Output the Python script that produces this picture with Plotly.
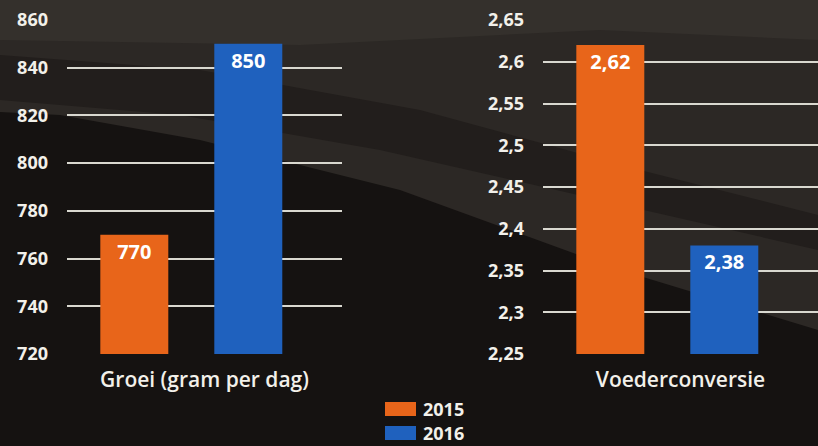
import plotly.graph_objects as go

years = ["2015", "2016"]
colors = ["#E8651A", "#1F61BE"]
groei_label = "Groei (gram per dag)"
voer_label = "Voederconversie"
groei = [770, 850]
voer = [2.62, 2.38]
groei_ticks = [720, 740, 760, 780, 800, 820, 840, 860]
voer_ticks = [2.25, 2.3, 2.35, 2.4, 2.45, 2.5, 2.55, 2.6, 2.65]

W, H = 818, 446
fig = go.Figure()

font_family = "Open Sans, Lato, sans-serif"
txt = "#f2f0ea"

for i, yr in enumerate(years):
    fig.add_trace(go.Bar(
        x=[groei_label], y=[groei[i]], name=yr, marker_color=colors[i],
        marker_line_width=0,
        texttemplate="%{y:.0f}", textposition="inside",
        insidetextanchor="end", textangle=0,
        textfont=dict(color="white", size=20, family=font_family, weight="bold"),
        xaxis="x", yaxis="y", legendgroup=yr, showlegend=False,
    ))
    fig.add_trace(go.Bar(
        x=[voer_label], y=[voer[i]], name=yr, marker_color=colors[i],
        marker_line_width=0,
        texttemplate="%{y:.2f}", textposition="inside",
        insidetextanchor="end", textangle=0,
        textfont=dict(color="white", size=20, family=font_family, weight="bold"),
        xaxis="x2", yaxis="y2", legendgroup=yr, showlegend=False,
    ))

ydom = [1 - 354 / H, 1 - 20 / H]
grid = dict(showgrid=True, gridcolor="#d9d8d0", gridwidth=1.6, zeroline=False,
            showline=False, ticks="", ticklabelstandoff=18, automargin=False,
            tickfont=dict(color=txt, size=18, family=font_family, weight="bold"))
xcommon = dict(showgrid=False, zeroline=False, showline=False, showticklabels=False,
               ticks="", range=[-0.452, 0.548], automargin=False,
               title=dict(standoff=18,
                          font=dict(color=txt, size=21, family=font_family, weight=600)))


def poly(pts):
    return "M " + " L ".join(f"{x / W:.4f} {1 - y / H:.4f}" for x, y in pts) + " Z"


bg_shapes = [
    dict(pts=[(0, 0), (818, 0), (818, 330), (620, 270), (400, 190), (200, 140), (60, 115), (0, 112)],
         color="#2c2825"),
    dict(pts=[(0, 55), (200, 70), (420, 110), (640, 170), (818, 215), (818, 250), (600, 200),
              (380, 150), (180, 115), (0, 100)],
         color="#221e1c"),
    dict(pts=[(0, 0), (818, 0), (818, 40), (600, 30), (300, 45), (0, 40)], color="#34302c"),
]
shapes = [dict(type="path", xref="paper", yref="paper", layer="below",
               path=poly(s["pts"]), fillcolor=s["color"], line_width=0)
          for s in bg_shapes]

# legend (key boxes + labels)
annotations = []
leg_x0, leg_x1, leg_text_x = 385, 416, 421
leg_y = [409, 433]
for i, yr in enumerate(years):
    yc = leg_y[i]
    shapes.append(dict(type="rect", xref="paper", yref="paper", layer="above",
                       x0=leg_x0 / W, x1=leg_x1 / W,
                       y0=1 - (yc + 7) / H, y1=1 - (yc - 7) / H,
                       fillcolor=colors[i], line_width=0))
    annotations.append(dict(text=yr, xref="paper", yref="paper", showarrow=False,
                            x=leg_text_x / W, y=1 - yc / H, xanchor="left", yanchor="middle",
                            font=dict(color=txt, size=18, family=font_family, weight="bold")))

fig.update_layout(
    width=W, height=H,
    margin=dict(l=0, r=0, t=0, b=0, autoexpand=False),
    paper_bgcolor="#151211", plot_bgcolor="rgba(0,0,0,0)",
    separators=",.",
    barmode="group", bargap=0.171, bargroupgap=0.4035,
    xaxis=dict(domain=[67 / W, 342 / W], anchor="y", **xcommon),
    xaxis2=dict(domain=[543 / W, 1.0], anchor="y2", **xcommon),
    yaxis=dict(domain=ydom, anchor="x", range=[720, 860], tickvals=groei_ticks, **grid),
    yaxis2=dict(domain=ydom, anchor="x2", range=[2.25, 2.65], tickvals=voer_ticks, **grid),
    showlegend=False,
    shapes=shapes,
    annotations=annotations,
)
fig.layout.xaxis.title.text = groei_label
fig.layout.xaxis2.title.text = voer_label

fig.write_html("out.html", config={"displayModeBar": False},
               post_script="document.body.style.margin='0';document.body.style.overflow='hidden';")
